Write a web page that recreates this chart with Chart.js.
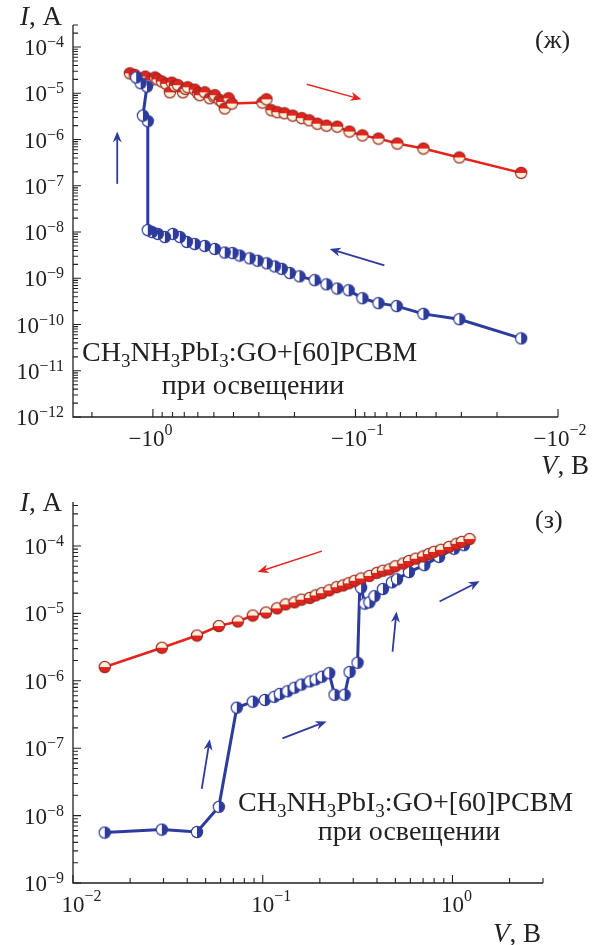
<!DOCTYPE html>
<html>
<head>
<meta charset="utf-8">
<script src="https://cdn.jsdelivr.net/npm/chart.js@4.4.1/dist/chart.umd.min.js"></script>
<style>
  body { margin: 0; background: #fff; }
  canvas { position: absolute; left: 0; }
</style>
</head>
<body>
<canvas id="chartTop" width="595" height="482" style="top:0"></canvas>
<canvas id="chartBottom" width="595" height="475" style="top:470px"></canvas>
<script>
// ---- panel (ж): negative bias, x is |V| on a reversed log axis ----
const topRedV = [1.30, 1.23, 1.16, 1.09, 1.03, 0.977, 0.95, 0.903, 0.86, 0.825, 0.806, 0.78, 0.753, 0.711, 0.69, 0.673, 0.621, 0.6, 0.587, 0.555, 0.524, 0.5, 0.495, 0.468, 0.455, 0.442, 0.423, 0.408, 0.288, 0.275, 0.26, 0.243, 0.224, 0.204, 0.184, 0.169, 0.154, 0.139, 0.123, 0.107, 0.0924, 0.077, 0.0621, 0.0462, 0.0307, 0.0152];
const topRedI = [2.7e-5, 2.5e-5, 2.0e-5, 2.3e-5, 1.9e-5, 2.2e-5, 2.0e-5, 1.8e-5, 1.6e-5, 1.05e-5, 1.7e-5, 1.45e-5, 1.5e-5, 1.05e-5, 1.25e-5, 1.35e-5, 1.2e-5, 1.0e-5, 9.1e-6, 1.05e-5, 7.8e-6, 8.5e-6, 9.1e-6, 7.1e-6, 6.5e-6, 4.7e-6, 7.8e-6, 6.0e-6, 6.3e-6, 7.4e-6, 4.3e-6, 3.9e-6, 3.7e-6, 3.3e-6, 2.9e-6, 2.6e-6, 2.2e-6, 2.0e-6, 1.9e-6, 1.49e-6, 1.23e-6, 1.05e-6, 8.2e-7, 6.4e-7, 4.1e-7, 1.9e-7];

const topBlueV = [0.0152, 0.0307, 0.0462, 0.0626, 0.077, 0.0924, 0.108, 0.123, 0.139, 0.159, 0.189, 0.211, 0.231, 0.25, 0.274, 0.304, 0.333, 0.373, 0.404, 0.442, 0.495, 0.555, 0.621, 0.68, 0.736, 0.797, 0.873, 0.945, 1.01, 1.06, 1.06, 1.12, 1.07, 1.15, 1.21];
const topBlueI = [5e-11, 1.3e-10, 1.7e-10, 2.5e-10, 2.9e-10, 3.7e-10, 5.5e-10, 6.0e-10, 7.4e-10, 9.1e-10, 1.1e-9, 1.3e-9, 1.6e-9, 1.8e-9, 2.1e-9, 2.4e-9, 2.7e-9, 3.1e-9, 3.5e-9, 3.6e-9, 4.3e-9, 5.0e-9, 5.5e-9, 6.1e-9, 7.8e-9, 9.1e-9, 7.8e-9, 9.1e-9, 1.0e-8, 1.1e-8, 2.5e-6, 3.3e-6, 1.4e-5, 1.65e-5, 2.2e-5];

const topXTicks = [1, 0.1, 0.01];
const topXExp = ['0', '−1', '−2'];
const topYTicks = [1e-4, 1e-5, 1e-6, 1e-7, 1e-8, 1e-9, 1e-10, 1e-11, 1e-12];
const topYExp = ['−4', '−5', '−6', '−7', '−8', '−9', '−10', '−11', '−12'];

// arrows in data units: [V0, I0, V1, I1] (tail -> head)
const topArrowsRed = [[0.174, 1.57e-5, 0.0934, 7.4e-6]];
const topArrowsBlue = [[0.072, 1.9e-9, 0.134, 4.3e-9], [1.50, 1.1e-7, 1.50, 1.5e-6]];

// ---- panel (з): positive bias ----
const botRedV = [0.0147, 0.0294, 0.045, 0.0587, 0.0739, 0.0886, 0.104, 0.119, 0.132, 0.147, 0.16, 0.177, 0.19, 0.205, 0.224, 0.245, 0.265, 0.284, 0.305, 0.33, 0.365, 0.4, 0.43, 0.465, 0.5, 0.55, 0.59, 0.64, 0.7, 0.75, 0.8, 0.87, 0.96, 1.05, 1.12, 1.23];
const botRedI = [1.6e-6, 3.1e-6, 4.7e-6, 6.5e-6, 7.6e-6, 9.3e-6, 1.03e-5, 1.19e-5, 1.36e-5, 1.46e-5, 1.6e-5, 1.7e-5, 1.85e-5, 2.0e-5, 2.2e-5, 2.45e-5, 2.6e-5, 2.8e-5, 3.05e-5, 3.3e-5, 3.6e-5, 4.0e-5, 4.3e-5, 4.5e-5, 5.0e-5, 5.5e-5, 6.0e-5, 6.5e-5, 7.0e-5, 7.6e-5, 8.2e-5, 8.8e-5, 9.7e-5, 1.08e-4, 1.15e-4, 1.27e-4];

const botBlueV = [0.0147, 0.0294, 0.045, 0.0587, 0.073, 0.0886, 0.1026, 0.115, 0.123, 0.135, 0.147, 0.16, 0.177, 0.19, 0.205, 0.224, 0.239, 0.27, 0.287, 0.316, 0.325, 0.33, 0.345, 0.365, 0.388, 0.43, 0.48, 0.51, 0.59, 0.71, 0.85, 1.02, 1.15];
const botBlueI = [5.6e-9, 6.2e-9, 5.7e-9, 1.35e-8, 4.0e-7, 4.9e-7, 5.2e-7, 5.8e-7, 6.4e-7, 7.0e-7, 7.9e-7, 8.8e-7, 9.8e-7, 1.05e-6, 1.15e-6, 1.3e-6, 6.2e-7, 6.2e-7, 1.35e-6, 1.85e-6, 2.7e-5, 2.4e-5, 1.4e-5, 1.46e-5, 1.8e-5, 2.3e-5, 2.9e-5, 3.2e-5, 4.1e-5, 5.2e-5, 6.9e-5, 9.1e-5, 1.03e-4];

const botXTicks = [0.01, 0.1, 1];
const botXExp = ['−2', '−1', '0'];
const botYTicks = [1e-4, 1e-5, 1e-6, 1e-7, 1e-8, 1e-9];
const botYExp = ['−4', '−5', '−6', '−7', '−8', '−9'];

const botArrowsRed = [[0.205, 8.4e-5, 0.094, 4.1e-5]];
const botArrowsBlue = [[0.0477, 2.5e-8, 0.0526, 1.36e-7], [0.127, 1.4e-7, 0.217, 2.5e-7], [0.483, 2.7e-6, 0.507, 1.07e-5], [0.855, 1.5e-5, 1.39, 3.0e-5]];

const FONT = '"Liberation Serif", "DejaVu Serif", "Times New Roman", serif';
const RED = '#e5231d';
const BLUE = '#2d3b9b';

const xy = (xs, ys) => xs.map((v, i) => ({ x: v, y: ys[i] }));

// half-filled circle markers
function marker(colA, colB, border, split) {
    const c = document.createElement('canvas');
    c.width = 14; c.height = 14;
    const g = c.getContext('2d');
    const r = 5.6;
    const a0 = split === 'h' ? Math.PI : Math.PI / 2;
    g.beginPath(); g.arc(7, 7, r, a0, a0 + Math.PI); g.closePath();
    g.fillStyle = colA; g.fill();
    g.beginPath(); g.arc(7, 7, r, a0 + Math.PI, a0 + 2 * Math.PI); g.closePath();
    g.fillStyle = colB; g.fill();
    g.beginPath(); g.arc(7, 7, r, 0, 2 * Math.PI);
    g.lineWidth = 1.2; g.strokeStyle = border; g.stroke();
    return c;
}

const redTopMark = marker(RED, '#fbf2dc', '#9c2a22', 'h');
const redBotMark = marker('#fbf2dc', RED, '#9c2a22', 'h');
const blueMark = marker('#ffffff', BLUE, BLUE, 'v');

function powLabel(ctx, prefix, exp, cx, baseY, mode) {
    ctx.fillStyle = '#222';
    ctx.textBaseline = 'alphabetic';
    ctx.textAlign = 'left';
    ctx.font = '23px ' + FONT;
    const w10 = ctx.measureText('10').width;
    const wPre = ctx.measureText(prefix).width;
    ctx.font = '16px ' + FONT;
    const wExp = ctx.measureText(exp).width;
    let x10;
    if (mode === 'right') x10 = cx - wExp - w10;
    else x10 = cx - w10 / 2;
    ctx.font = '23px ' + FONT;
    if (prefix) ctx.fillText(prefix, x10 - wPre, baseY);
    ctx.fillText('10', x10, baseY);
    ctx.font = '16px ' + FONT;
    ctx.fillText(exp, x10 + w10, baseY - (mode === 'right' ? 8 : 11));
}

function formula(ctx, x, y, size) {
    const parts = [['CH', 0], ['3', 1], ['NH', 0], ['3', 1], ['PbI', 0], ['3', 1], [':GO+[60]PCBM', 0]];
    ctx.fillStyle = '#222';
    ctx.textAlign = 'left';
    ctx.textBaseline = 'alphabetic';
    parts.forEach(([t, sub]) => {
        ctx.font = (sub ? Math.round(size * 0.68) : size) + 'px ' + FONT;
        ctx.fillText(t, x, y + (sub ? 6 : 0));
        x += ctx.measureText(t).width;
    });
}

function arrow(ctx, x0, y0, x1, y1, color, lw) {
    const ang = Math.atan2(y1 - y0, x1 - x0);
    const hl = 11, hw = 4.5;
    ctx.strokeStyle = color; ctx.fillStyle = color; ctx.lineWidth = lw;
    ctx.beginPath();
    ctx.moveTo(x0, y0);
    ctx.lineTo(x1 - hl * 0.7 * Math.cos(ang), y1 - hl * 0.7 * Math.sin(ang));
    ctx.stroke();
    ctx.beginPath();
    ctx.moveTo(x1, y1);
    ctx.lineTo(x1 - hl * Math.cos(ang) + hw * Math.sin(ang), y1 - hl * Math.sin(ang) - hw * Math.cos(ang));
    ctx.lineTo(x1 - hl * 0.7 * Math.cos(ang), y1 - hl * 0.7 * Math.sin(ang));
    ctx.lineTo(x1 - hl * Math.cos(ang) - hw * Math.sin(ang), y1 - hl * Math.sin(ang) + hw * Math.cos(ang));
    ctx.closePath();
    ctx.fill();
}

// axes, ticks, labels and annotations drawn from the chart's own scales
function decor(cfg) {
    return {
        id: 'decor',
        afterDraw(chart) {
            const { ctx, chartArea: a, scales: { x, y } } = chart;
            ctx.save();
            ctx.strokeStyle = '#222';
            ctx.lineWidth = 1.3;
            ctx.beginPath();
            ctx.moveTo(a.left, a.top);
            ctx.lineTo(a.left, a.bottom);
            ctx.lineTo(a.right, a.bottom);
            ctx.stroke();

            const ticks = (scale, horiz) => {
                const lo = Math.floor(Math.log10(scale.min)), hi = Math.ceil(Math.log10(scale.max));
                ctx.lineWidth = 1.1;
                ctx.beginPath();
                for (let d = lo; d <= hi; d++) {
                    for (let m = 1; m <= 9; m++) {
                        const v = m * Math.pow(10, d);
                        if (v < scale.min * 0.999 || v > scale.max * 1.001) continue;
                        const p = scale.getPixelForValue(v);
                        const len = m === 1 ? 8 : 5;
                        if (horiz) { ctx.moveTo(p, a.bottom); ctx.lineTo(p, a.bottom - len); }
                        else { ctx.moveTo(a.left, p); ctx.lineTo(a.left + len, p); }
                    }
                }
                ctx.stroke();
            };
            ticks(x, true);
            ticks(y, false);

            cfg.xTicks.forEach((v, i) => powLabel(ctx, cfg.xPrefix, cfg.xExp[i], x.getPixelForValue(v), a.bottom + 29, 'center'));
            cfg.yTicks.forEach((v, i) => powLabel(ctx, '', cfg.yExp[i], 64, y.getPixelForValue(v) + 8, 'right'));

            const px = (r) => [x.getPixelForValue(r[0]), y.getPixelForValue(r[1]), x.getPixelForValue(r[2]), y.getPixelForValue(r[3])];
            cfg.redArrows.forEach(r => { const p = px(r); arrow(ctx, p[0], p[1], p[2], p[3], RED, 1.4); });
            cfg.blueArrows.forEach(r => { const p = px(r); arrow(ctx, p[0], p[1], p[2], p[3], BLUE, 1.8); });

            ctx.fillStyle = '#222';
            ctx.textBaseline = 'alphabetic';
            ctx.textAlign = 'left';
            ctx.font = 'italic 27px ' + FONT;
            ctx.fillText('I', 20, cfg.iy);
            let w = ctx.measureText('I').width;
            ctx.font = '27px ' + FONT;
            ctx.fillText(', A', 20 + w, cfg.iy);

            ctx.font = 'italic 27px ' + FONT;
            ctx.fillText('V', cfg.vx, cfg.vy);
            w = ctx.measureText('V').width;
            ctx.font = '27px ' + FONT;
            ctx.fillText(', B', cfg.vx + w, cfg.vy);

            ctx.font = '26px ' + FONT;
            ctx.fillText(cfg.panel, 535, cfg.panelY);

            formula(ctx, cfg.fx, cfg.fy, 28);
            ctx.font = '28px ' + FONT;
            ctx.textAlign = 'center';
            ctx.fillText('при освещении', cfg.sx, cfg.sy);
            ctx.restore();
        }
    };
}

const commonOpts = (pad, xMin, xMax, yMin, yMax, rev) => ({
    responsive: false,
    animation: false,
    layout: { padding: pad },
    scales: {
        x: { type: 'logarithmic', min: xMin, max: xMax, reverse: rev, display: false },
        y: { type: 'logarithmic', min: yMin, max: yMax, display: false }
    },
    plugins: { legend: { display: false }, tooltip: { enabled: false } }
});

new Chart(document.getElementById('chartTop'), {
    type: 'line',
    data: {
        datasets: [
            { data: xy(topBlueV, topBlueI), borderColor: BLUE, borderWidth: 3, pointStyle: blueMark, tension: 0 },
            { data: xy(topRedV, topRedI), borderColor: RED, borderWidth: 2.5, pointStyle: redTopMark, tension: 0 }
        ]
    },
    options: commonOpts({ left: 73, right: 37, top: 25, bottom: 65 }, 0.01, 2.48, 1e-12, 3e-4, true),
    plugins: [decor({
        xTicks: topXTicks, xExp: topXExp, xPrefix: '−',
        yTicks: topYTicks, yExp: topYExp,
        redArrows: topArrowsRed, blueArrows: topArrowsBlue,
        iy: 25, vx: 541, vy: 474, panel: '(ж)', panelY: 48,
        fx: 82, fy: 361, sx: 253, sy: 394
    })]
});

new Chart(document.getElementById('chartBottom'), {
    type: 'line',
    data: {
        datasets: [
            { data: xy(botRedV, botRedI), borderColor: RED, borderWidth: 2.5, pointStyle: redBotMark, tension: 0 },
            { data: xy(botBlueV, botBlueI), borderColor: BLUE, borderWidth: 3, pointStyle: blueMark, tension: 0 }
        ]
    },
    options: commonOpts({ left: 73, right: 52, top: 32, bottom: 62 }, 0.01, 3, 1e-9, 4.5e-4, false),
    plugins: [decor({
        xTicks: botXTicks, xExp: botXExp, xPrefix: '',
        yTicks: botYTicks, yExp: botYExp,
        redArrows: botArrowsRed, blueArrows: botArrowsBlue,
        iy: 41, vx: 493, vy: 472, panel: '(з)', panelY: 58,
        fx: 238, fy: 341, sx: 409, sy: 370
    })]
});
</script>
</body>
</html>
